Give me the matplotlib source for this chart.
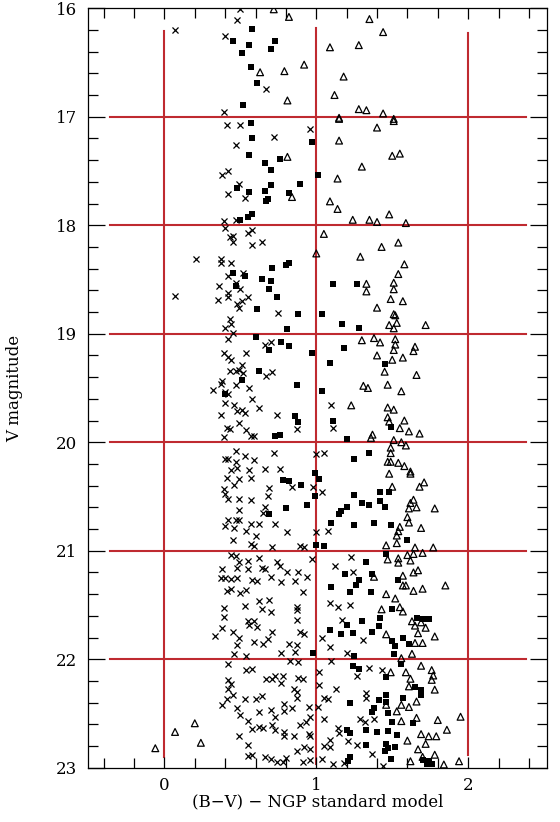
import matplotlib
matplotlib.use("Agg")
import matplotlib.pyplot as plt
import numpy as np

# ---------------- data (B-V offset, V magnitude) ----------------
cross_x = [0.50,0.48,0.07,0.40,0.67,0.39,
    0.41,0.50,0.96,0.72,0.47,0.38,0.42,0.49,0.42,0.53,0.39,0.47,
    0.40,0.43,0.45,0.45,0.55,0.58,0.58,0.64,0.21,0.37,0.37,0.44,0.42,0.52,0.47,0.36,0.50,0.42,0.42,0.07,0.35,0.48,0.49,0.55,0.51,0.75,0.43,0.44,0.40,
    0.42,0.45,0.66,0.70,0.39,0.42,0.54,0.44,0.51,0.43,0.47,0.49,0.52,0.67,0.71,0.38,0.37,0.47,0.32,0.40,0.42,0.56,0.58,0.40,0.46,0.48,0.51,0.53,0.62,0.37,0.49,0.41,0.43,0.54,0.39,0.57,0.59,0.74,0.87,1.10,1.11,
    0.47,0.40,0.42,0.53,0.59,0.72,0.47,0.48,0.56,0.66,0.76,0.44,0.41,0.49,0.57,0.46,0.39,0.40,0.42,0.49,0.57,0.69,0.68,0.84,0.49,0.66,0.65,0.42,0.47,0.40,0.46,0.49,0.57,0.62,0.54,0.60,0.45,0.57,0.59,0.71,0.73,0.81,0.89,0.92,1.00,1.05,0.98,1.04,1.00,1.08,
    0.44,0.47,0.49,0.55,0.62,0.74,0.97,0.38,0.48,0.55,0.64,0.66,0.76,0.81,0.88,0.37,0.40,0.44,0.48,0.58,0.61,0.70,0.77,0.86,0.94,0.41,0.44,0.50,0.54,0.91,0.62,0.69,0.53,0.39,0.64,0.70,0.87,0.87,0.39,0.55,0.59,0.56,0.61,0.87,0.38,0.45,0.33,0.49,0.59,0.68,0.71,0.48,0.65,0.82,0.87,0.89,0.92,0.46,0.54,0.77,0.86,1.12,1.23,1.24,1.09,1.14,1.22,1.17,1.04,1.09,1.31,1.20,
    0.42,0.54,0.58,0.83,0.88,1.10,0.67,0.71,0.73,0.78,0.77,0.88,0.91,0.42,0.44,0.42,0.85,0.87,1.02,1.02,1.13,1.05,1.08,1.27,1.35,1.43,1.33,1.33,0.38,0.41,0.45,0.53,0.60,0.64,0.48,0.50,0.62,0.70,0.73,0.79,0.79,0.84,0.95,1.01,0.87,0.55,0.58,0.62,0.65,0.71,0.73,0.89,0.93,0.96,0.79,0.79,0.85,0.95,0.96,0.49,0.55,1.05,1.14,1.15,1.09,1.05,1.09,1.21,1.27,1.29,1.32,1.38,0.87,0.92,0.96,0.55,0.58,0.66,0.70,0.74,0.78,0.80,0.91,0.96,1.04,1.11,1.18,1.37,1.44]
cross_v = [16.01,16.11,16.20,16.26,16.74,16.96,
    17.08,17.08,17.11,17.19,17.26,17.54,17.50,17.62,17.71,17.75,17.96,17.95,
    18.03,18.11,18.10,18.15,18.07,18.04,18.18,18.15,18.31,18.31,18.35,18.35,18.47,18.44,18.53,18.56,18.59,18.62,18.66,18.65,18.69,18.73,18.76,18.66,18.70,18.81,18.86,18.91,18.95,
    19.05,18.99,19.10,19.08,19.18,19.21,19.18,19.24,19.29,19.34,19.34,19.33,19.36,19.39,19.35,19.44,19.46,19.47,19.52,19.54,19.56,19.50,19.60,19.64,19.66,19.71,19.70,19.73,19.68,19.75,19.82,19.87,19.88,19.89,19.95,19.94,19.94,19.75,19.88,19.66,19.87,
    20.08,20.15,20.15,20.13,20.16,20.10,20.18,20.24,20.26,20.25,20.25,20.26,20.33,20.34,20.33,20.39,20.43,20.48,20.52,20.52,20.53,20.42,20.50,20.41,20.62,20.60,20.65,20.72,20.72,20.77,20.79,20.72,20.75,20.75,20.82,20.86,20.90,20.94,20.96,20.97,20.75,20.83,20.96,20.97,20.11,20.10,20.41,20.46,20.83,20.82,
    21.04,21.05,21.10,21.09,21.07,21.10,21.08,21.17,21.16,21.17,21.16,21.17,21.14,21.20,21.20,21.25,21.25,21.26,21.25,21.27,21.28,21.24,21.29,21.28,21.24,21.37,21.35,21.39,21.36,21.38,21.46,21.45,21.51,21.53,21.54,21.56,21.52,21.55,21.61,21.65,21.65,21.68,21.70,21.64,21.71,21.75,21.79,21.80,21.84,21.81,21.75,21.87,21.86,21.86,21.87,21.75,21.77,21.95,21.97,21.94,21.93,21.14,21.06,21.20,21.48,21.52,21.50,21.64,21.80,21.89,21.82,21.94,
    22.04,22.10,22.09,22.02,22.03,22.02,22.18,22.18,22.15,22.15,22.22,22.17,22.18,22.19,22.23,22.27,22.27,22.30,22.12,22.24,22.27,22.36,22.37,22.15,22.08,22.10,22.31,22.36,22.42,22.37,22.33,22.37,22.37,22.34,22.45,22.51,22.49,22.47,22.53,22.41,22.48,22.45,22.44,22.44,22.36,22.57,22.64,22.62,22.63,22.61,22.65,22.61,22.58,22.53,22.67,22.71,22.71,22.69,22.71,22.71,22.79,22.55,22.63,22.68,22.74,22.80,22.81,22.75,22.79,22.55,22.58,22.55,22.85,22.81,22.83,22.89,22.88,22.90,22.92,22.95,22.95,22.91,22.95,22.93,22.92,22.97,22.96,22.87,22.98]

sq_x = [0.58,0.45,0.73,0.56,0.51,0.70,0.57,0.61,0.52,
    0.57,0.58,0.97,0.56,0.76,0.66,0.70,1.01,0.48,0.56,0.66,0.70,0.89,0.82,0.68,0.67,0.50,0.55,0.58,
    0.71,0.80,0.82,0.45,0.53,0.64,0.70,0.47,0.69,0.74,0.61,0.88,1.04,1.11,1.27,1.17,1.28,0.81,
    0.60,0.77,0.82,0.69,0.97,1.18,1.09,1.45,0.62,0.51,0.87,1.04,0.86,0.88,1.11,1.49,0.73,0.76,1.20,0.40,
    1.25,1.35,0.99,1.02,0.78,0.82,0.90,0.99,1.42,1.48,1.25,1.30,1.42,1.35,1.45,1.20,1.16,1.15,0.94,0.80,0.69,1.10,1.25,1.38,1.49,1.60,1.05,1.00,
    1.33,1.46,1.19,1.37,1.28,1.54,1.10,1.26,1.22,1.36,1.20,1.30,1.42,1.41,1.09,1.16,1.24,1.37,1.50,1.50,1.57,1.52,1.61,1.51,1.25,0.98,1.66,1.74,1.70,
    1.24,1.28,1.56,1.46,1.65,1.69,1.69,1.46,1.41,1.46,1.57,1.22,1.38,1.37,1.47,1.50,1.64,1.20,1.22,1.33,1.40,1.47,1.53,1.46,1.47,1.52,1.33,1.45,1.22,1.21,1.49,1.70,1.74,1.73,1.76]
sq_v = [16.19,16.30,16.30,16.34,16.41,16.38,16.54,16.69,16.89,
    17.06,17.20,17.23,17.35,17.39,17.43,17.49,17.54,17.66,17.69,17.68,17.63,17.62,17.70,17.76,17.78,17.95,17.92,17.90,
    18.39,18.37,18.35,18.44,18.47,18.50,18.51,18.56,18.59,18.66,18.77,18.82,18.82,18.54,18.54,18.91,18.95,18.96,
    19.03,19.08,19.11,19.15,19.18,19.13,19.27,19.28,19.34,19.43,19.47,19.53,19.76,19.81,19.80,19.86,19.94,19.93,19.97,19.56,
    20.15,20.10,20.28,20.34,20.35,20.36,20.39,20.50,20.46,20.46,20.49,20.56,20.54,20.58,20.60,20.60,20.63,20.66,20.58,20.61,20.66,20.74,20.76,20.74,20.76,20.90,20.96,20.95,
    21.10,21.03,21.21,21.21,21.27,21.27,21.33,21.32,21.38,21.38,21.68,21.65,21.62,21.69,21.73,21.77,21.76,21.75,21.54,21.83,21.80,21.88,21.86,21.95,21.97,21.94,21.62,21.63,21.63,
    22.06,22.09,22.04,22.16,22.26,22.28,22.33,22.33,22.38,22.39,22.36,22.40,22.45,22.49,22.50,22.58,22.59,22.65,22.68,22.65,22.67,22.66,22.70,22.78,22.82,22.81,22.79,22.85,22.90,22.94,22.92,22.93,22.94,22.97,22.97]

tri_x = [0.72,0.82,1.35,1.44,1.09,1.28,0.92,0.63,0.79,1.18,1.12,0.81,1.28,1.33,1.44,1.15,1.51,
    1.15,1.51,1.40,1.15,1.50,1.55,0.81,1.30,1.14,0.84,1.09,1.14,1.24,1.35,1.40,1.48,1.59,
    1.05,1.00,1.29,1.43,1.54,1.58,1.54,1.33,1.33,1.51,1.51,1.49,1.57,1.40,1.51,1.52,1.48,1.53,1.51,1.72,
    1.30,1.38,1.42,1.52,1.52,1.51,1.65,1.64,1.40,1.50,1.57,1.45,1.66,1.31,1.34,1.47,1.56,1.23,1.47,1.51,1.47,1.58,1.48,1.55,1.61,1.68,1.37,1.36,1.51,
    1.49,1.56,1.59,1.49,1.49,1.47,1.54,1.58,1.62,1.62,1.48,1.71,1.68,1.50,1.64,1.62,1.66,1.61,1.78,1.60,1.61,1.69,1.55,1.54,1.53,1.53,1.46,1.65,1.77,
    1.47,1.54,1.60,1.64,1.62,1.54,1.70,1.64,1.67,1.57,1.38,1.57,1.59,1.64,1.70,1.85,1.46,1.52,1.55,1.43,1.57,1.63,1.69,1.65,1.72,1.67,1.78,1.46,1.65,1.70,1.63,1.56,
    1.49,1.59,1.69,1.76,1.77,1.76,1.62,1.61,1.78,1.66,1.61,1.53,1.46,1.56,1.56,1.66,1.80,1.95,1.86,1.69,1.74,1.79,1.60,1.72,1.67,1.78,1.70,1.62,1.84,1.94,0.20,0.07,0.24,-0.06]
tri_v = [16.01,16.08,16.10,16.22,16.36,16.34,16.52,16.59,16.58,16.63,16.80,16.85,16.93,16.94,16.97,17.01,17.02,
    17.02,17.04,17.10,17.22,17.36,17.34,17.37,17.46,17.57,17.74,17.78,17.85,17.95,17.95,17.97,17.90,17.98,
    18.08,18.26,18.29,18.20,18.16,18.36,18.45,18.54,18.61,18.53,18.59,18.68,18.70,18.76,18.82,18.83,18.92,18.90,18.95,18.92,
    19.06,19.04,19.08,19.05,19.10,19.15,19.12,19.16,19.20,19.24,19.22,19.35,19.38,19.48,19.50,19.47,19.53,19.66,19.68,19.70,19.77,19.80,19.81,19.87,19.90,19.92,19.93,19.96,19.98,
    20.05,20.00,20.03,20.10,20.18,20.18,20.19,20.22,20.27,20.29,20.29,20.37,20.41,20.41,20.53,20.56,20.60,20.61,20.61,20.69,20.74,20.79,20.78,20.82,20.86,20.93,20.95,20.97,20.97,
    21.08,21.07,21.04,21.03,21.09,21.11,21.02,21.20,21.18,21.23,21.24,21.32,21.32,21.37,21.35,21.32,21.40,21.44,21.52,21.54,21.56,21.65,21.66,21.69,21.71,21.76,21.79,21.77,21.85,21.85,21.95,21.99,
    22.12,22.12,22.06,22.10,22.15,22.19,22.18,22.25,22.28,22.39,22.44,22.48,22.42,22.42,22.57,22.54,22.56,22.53,22.65,22.69,22.71,22.71,22.75,22.78,22.83,22.88,22.90,22.94,22.97,22.94,22.59,22.67,22.77,22.82]

grid_x = [0, 1, 2]
grid_v = [17, 18, 19, 20, 21, 22]
xtick_labels = ["0", "1", "2"]
ytick_vals = [16, 17, 18, 19, 20, 21, 22, 23]

# ---------------- figure ----------------
plt.rcParams['font.family'] = ['DejaVu Serif']
fig = plt.figure(figsize=(5.6, 8.22), dpi=100)
ax = fig.add_axes([0.158, 0.066, 0.819, 0.924])

red = '#bf2a30'
vline_top = {0: 16.21, 1: 16.18, 2: 16.23}
vline_bot = {0: 22.9, 1: 22.97, 2: 22.88}
for gx in grid_x:
    ax.plot([gx, gx], [vline_top[gx], vline_bot[gx]], color=red, lw=1.5, zorder=1)
for gv in grid_v:
    ax.plot([-0.36, 2.38], [gv, gv], color=red, lw=1.5, zorder=1)

ax.scatter(cross_x, cross_v, marker='x', s=19, c='black', linewidths=0.9, zorder=3)
ax.scatter(sq_x, sq_v, marker='s', s=15, c='black', linewidths=0, zorder=3)
ax.scatter(tri_x, tri_v, marker='^', s=24, facecolors='none', edgecolors='black', linewidths=0.9, zorder=3)

ax.set_xlim(-0.5, 2.52)
ax.set_ylim(23, 16)
ax.set_xticks(grid_x)
ax.set_xticklabels(xtick_labels)
ax.set_xticks(np.round(np.arange(-0.4, 2.41, 0.2), 2), minor=True)
ax.set_yticks(ytick_vals)
ax.set_yticks(np.round(np.arange(16, 23.01, 0.2), 2), minor=True)
ax.tick_params(axis='both', which='both', direction='in', top=True, right=True, width=0.9)
ax.tick_params(axis='x', which='major', length=8, labelsize=12, pad=7)
ax.tick_params(axis='x', which='minor', length=7)
ax.tick_params(axis='y', which='major', length=12, labelsize=12, pad=8)
ax.tick_params(axis='y', which='minor', length=7)
for sp in ax.spines.values():
    sp.set_linewidth(0.9)

ax.set_xlabel("(B\u2212V) \u2212 NGP standard model", fontsize=12, labelpad=-1)
ax.set_ylabel("V magnitude", fontsize=12, labelpad=24)

fig.savefig("out.png", dpi=100, facecolor='white')
